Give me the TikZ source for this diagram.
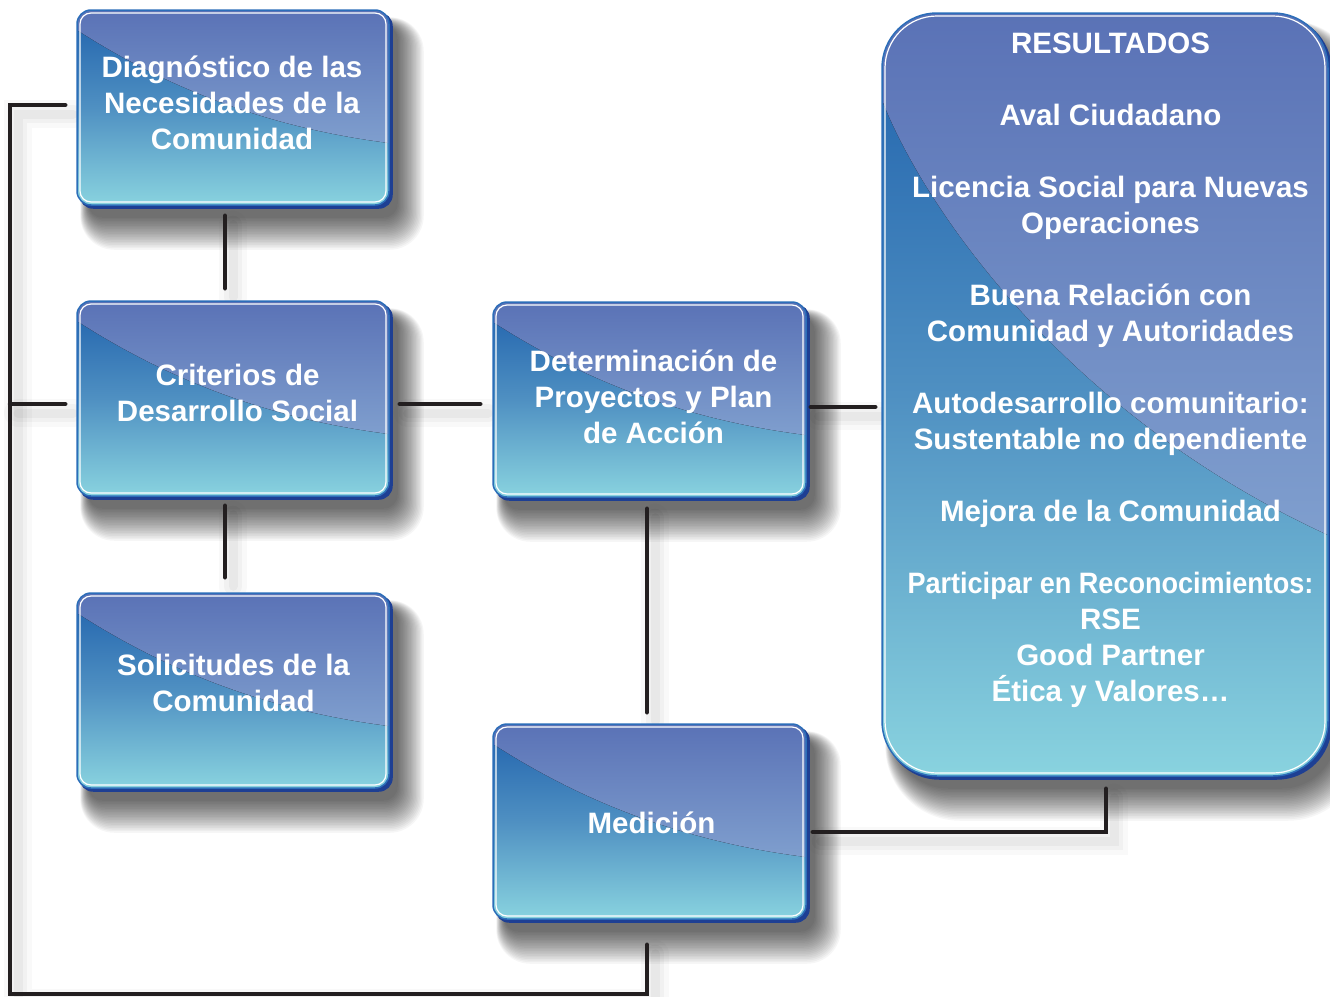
\documentclass[tikz,border=0pt]{standalone}
\usepackage{fontspec}
\setmainfont{Liberation Sans}
\usepackage{graphicx}
\usetikzlibrary{calc}
\pgfdeclarelayer{paper}
\pgfdeclarelayer{bg}
\pgfsetlayers{paper,bg,main}
\definecolor{glosstop}{HTML}{5A72B6}
\definecolor{glossbot}{HTML}{90B3D9}
\definecolor{basetop}{HTML}{1F61AC}
\definecolor{basemid}{HTML}{4F90C2}
\definecolor{basebot}{HTML}{89D3DF}
\definecolor{rimblue}{HTML}{2C6EB9}
\definecolor{edgedark}{HTML}{1E3F93}
\definecolor{linecol}{HTML}{231F20}
\tikzset{
  gbox/.style={rectangle, rounded corners=14pt, minimum width=#1, minimum height=195pt,
    inner sep=0pt, draw=rimblue, line width=1.5pt,
    top color=basetop, bottom color=basebot, middle color=basemid,
    path picture={
      \fill[sharp corners, top color=glosstop, bottom color=glossbot]
        (path picture bounding box.north west)
        -- ([shift={(0,20)}]path picture bounding box.north west)
        .. controls ([shift={(70,65)}]path picture bounding box.north west)
        and ([shift={(170,115)}]path picture bounding box.north west)
        .. ([shift={(0,133)}]path picture bounding box.north east)
        -- (path picture bounding box.north east) -- cycle;
      \draw[white, line width=1.2pt, rounded corners=11pt]
        ([shift={(3,3)}]path picture bounding box.north west)
        rectangle ([shift={(-3,-3)}]path picture bounding box.south east);
    }},
  resbox/.style={rectangle, rounded corners=55pt, minimum width=446pt, minimum height=763pt,
    inner sep=0pt, draw=rimblue, line width=1.5pt,
    top color=basetop, bottom color=basebot, middle color=basemid,
    path picture={
      \fill[sharp corners, top color=glosstop, bottom color=glossbot]
        (path picture bounding box.north west)
        -- ([shift={(0,87)}]path picture bounding box.north west)
        .. controls ([shift={(40,190)}]path picture bounding box.north west)
        and ([shift={(180,400)}]path picture bounding box.north west)
        .. ([shift={(0,522)}]path picture bounding box.north east)
        -- (path picture bounding box.north east) -- cycle;
      \draw[white, line width=1.2pt, rounded corners=52pt]
        ([shift={(3,3)}]path picture bounding box.north west)
        rectangle ([shift={(-3,-3)}]path picture bounding box.south east);
    }},
  btext/.style={text=white, font=\bfseries\fontsize{29.5}{36}\selectfont, align=center, inner sep=0pt},
  conn/.style={draw=linecol, line width=4.5pt, line cap=round, line join=miter},
  shlineA/.style={draw=black, opacity=0.025, line width=28pt, line cap=round},
  shlineB/.style={draw=black, opacity=0.03, line width=18pt, line cap=round},
  shlineC/.style={draw=black, opacity=0.035, line width=9pt, line cap=round}
}
\newcommand\connectors[1]{%
  \draw[#1] ($(d1.south)+(-8,10)$) -- ($(d2.north)+(-8,-12)$);
  \draw[#1] ($(d2.south)+(-8,9)$) -- ($(d3.north)+(-8,-15)$);
  \draw[#1] ($(d2.east)+(10,5.5)$) -- ($(d4.west)+(-12,4.5)$);
  \draw[#1] ($(d4.east)+(4,7.5)$) -- ($(res.west)+(-6,12.5)$);
  \draw[#1] ($(d4.south)+(-2.5,11)$) -- ($(d5.north)+(-2.5,-11)$);
  \draw[#1] ($(d5.east)+(6,10.5)$) -| ($(res.south)+(1,12)$);
  \draw[#1] ($(d5.south)+(-2.5,25)$) |- (loopBL) |- ($(d1.west)+(-11,-2.5)$);
  \draw[#1] (loopML) -- ($(d2.west)+(-11,5.5)$);
}
\newcommand\dropsh[2]{%
  \foreach \k in {0,...,20}{%
    \fill[black, opacity=0.036, rounded corners={(#2+\k)*1pt}]
      ($(#1.north west)+(12-0.4*\k,16-0.4*\k)$) rectangle ($(#1.south east)+(8+1.3*\k,12+1.6*\k)$);}%
  \fill[edgedark, rounded corners={#2*1pt}] ($(#1.north west)+(3,3)$) rectangle ($(#1.south east)+(3,3)$);
}
\begin{document}
\begin{tikzpicture}[x=1pt, y=-1pt]
\useasboundingbox (0,0) rectangle (1330,996);
\begin{pgfonlayer}{paper}
  \fill[white] (0,0) rectangle (1330,996);
\end{pgfonlayer}

\node[gbox=312pt] (d1) at (233,107.5) {};
\node[gbox=312pt] (d2) at (233,398.5) {};
\node[gbox=312pt] (d3) at (233,690.5) {};
\node[gbox=313pt] (d4) at (649.5,399.5) {};
\node[gbox=313pt] (d5) at (649.5,821.5) {};
\node[resbox] (res) at (1105,394.5) {};

\coordinate (loopBL) at (10,994);
\coordinate (loopML) at (10,404);

\begin{pgfonlayer}{bg}
  \begin{scope}[transform canvas={xshift=8pt, yshift=-9pt}]
    \connectors{shlineA}
    \connectors{shlineB}
    \connectors{shlineC}
  \end{scope}
  \dropsh{d1}{14}
  \dropsh{d2}{14}
  \dropsh{d3}{14}
  \dropsh{d4}{14}
  \dropsh{d5}{14}
  \dropsh{res}{55}
\end{pgfonlayer}

\connectors{conn}

\node[btext] (t1) at ($(d1.center)+(-1,-5)$) {Diagnóstico de las\\Necesidades de la\\Comunidad};
\node[btext] (t2) at ($(d2.center)+(4.5,-5.5)$) {Criterios de\\Desarrollo Social};
\node[btext] (t3) at ($(d3.center)+(0.5,-7.5)$) {Solicitudes de la\\Comunidad};
\node[btext] (t4) at ($(d4.center)+(4,-3)$) {Determinación de\\Proyectos y Plan\\de Acción};
\node[btext] (t5) at ($(d5.center)+(2,1)$) {Medición};
\node[btext, anchor=north] (t6) at ($(res.north)+(5.5,20.5)$) {RESULTADOS\\[36pt]
Aval Ciudadano\\[36pt]
Licencia Social para Nuevas\\Operaciones\\[36pt]
Buena Relación con\\Comunidad y Autoridades\\[36pt]
Autodesarrollo comunitario:\\Sustentable no dependiente\\[36pt]
Mejora de la Comunidad\\[36pt]
\scalebox{0.917}[1]{Participar en Reconocimientos:}\\RSE\\Good Partner\\Ética y Valores…};
\end{tikzpicture}
\end{document}
